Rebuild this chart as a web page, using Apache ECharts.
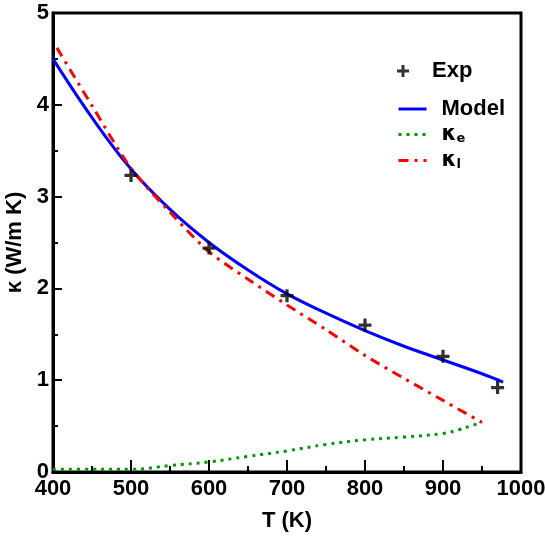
<!DOCTYPE html>
<html>
<head>
<meta charset="utf-8">
<script src="https://cdn.jsdelivr.net/npm/echarts@6/dist/echarts.min.js"></script>
<style>html,body{margin:0;padding:0;background:#fff}#c{width:545px;height:538px}</style>
</head>
<body>
<div id="c"></div>
<script>
// Experimental points
var expT = [500, 600, 700, 800, 900, 970];
var expK = [3.23, 2.44, 1.92, 1.60, 1.26, 0.92];
// Model (total)
var modelT = [400, 450, 500, 550, 600, 650, 700, 750, 800, 850, 900, 950, 977];
var modelK = [4.50, 3.86, 3.30, 2.86, 2.50, 2.20, 1.94, 1.73, 1.54, 1.37, 1.22, 1.07, 0.98];
// Electronic contribution
var keT = [400, 450, 500, 550, 600, 650, 700, 750, 800, 850, 900, 920, 935, 950];
var keK = [0.03, 0.03, 0.03, 0.07, 0.11, 0.17, 0.23, 0.30, 0.35, 0.38, 0.42, 0.46, 0.50, 0.54];
// Lattice contribution
var klT = [405, 450, 500, 550, 600, 650, 700, 750, 800, 850, 900, 950];
var klK = [4.62, 3.99, 3.31, 2.83, 2.40, 2.10, 1.82, 1.55, 1.27, 1.02, 0.78, 0.54];
// Axis ticks
var xTicks = [400, 500, 600, 700, 800, 900, 1000];
var yTicks = [0, 1, 2, 3, 4, 5];

function pairs(a, b) { return a.map(function (v, i) { return [v, b[i]]; }); }

var FONT = "'Liberation Sans Narrow', 'Liberation Sans', Arial, sans-serif";
var plus = 'path://M-1.5,-6 L1.5,-6 L1.5,-1.5 L6,-1.5 L6,1.5 L1.5,1.5 L1.5,6 L-1.5,6 L-1.5,1.5 L-6,1.5 L-6,-1.5 L-1.5,-1.5 Z';

var chart = echarts.init(document.getElementById('c'));
function leg(name, top, isLine) {
  var o = {
    data: [name], left: 392, top: top, orient: 'vertical',
    itemWidth: 28, itemHeight: 12, selectedMode: false,
    textStyle: {
      fontFamily: FONT, fontSize: 22, fontWeight: 'bold', color: '#000', padding: [0, 0, 0, 10],
      rich: {
        k: { fontFamily: 'DejaVu Sans', fontSize: 21, color: '#000' },
        s: { fontFamily: 'DejaVu Sans', fontSize: 13, color: '#000', verticalAlign: 'bottom', padding: [8, 0, 0, 0] }
      }
    },
    formatter: function (n) {
      if (n === 'ke') return '{k|κ}{s|e}';
      if (n === 'kl') return '{k|κ}{s|l}';
      return n;
    }
  };
  if (isLine) { o.itemStyle = { opacity: 0 }; o.lineStyle = { width: 3 }; }
  return o;
}

chart.setOption({
  animation: false,
  backgroundColor: '#fff',
  grid: { left: 53, right: 24, top: 13, bottom: 66, show: true, borderColor: '#000', borderWidth: 3, outerBoundsMode: 'none', containLabel: false },
  legend: [
    leg('Exp', 55, false),
    leg('Model', 93, true),
    leg('ke', 119, true),
    leg('kl', 145, true)
  ],
  xAxis: {
    type: 'value', min: xTicks[0], max: xTicks[xTicks.length - 1], interval: 100,
    name: 'T (K)', nameLocation: 'middle', nameGap: 38,
    nameTextStyle: { fontFamily: FONT, fontSize: 22, fontWeight: 'bold', color: '#000' },
    axisLine: { lineStyle: { color: '#000', width: 3 } },
    axisTick: { inside: true, length: 12, lineStyle: { color: '#000', width: 2 } },
    minorTick: { show: true, splitNumber: 2, length: 6, lineStyle: { color: '#000', width: 2 } },
    axisLabel: { fontFamily: FONT, fontSize: 22, fontWeight: 'bold', color: '#000', margin: 6, formatter: function (v) { return String(v); } },
    splitLine: { show: false }
  },
  yAxis: {
    type: 'value', min: yTicks[0], max: yTicks[yTicks.length - 1], interval: 1,
    name: 'κ (W/m K)', nameLocation: 'middle', nameGap: 12,
    nameTextStyle: { fontFamily: FONT, fontSize: 22, fontWeight: 'bold', color: '#000' },
    axisLine: { lineStyle: { color: '#000', width: 3 } },
    axisTick: { inside: true, length: 9, lineStyle: { color: '#000', width: 2 } },
    minorTick: { show: true, splitNumber: 2, length: 5, lineStyle: { color: '#000', width: 2 } },
    axisLabel: { fontFamily: FONT, fontSize: 22, fontWeight: 'bold', color: '#000', margin: 4, formatter: function (v) { return String(v); } },
    splitLine: { show: false }
  },
  series: [
    { name: 'Exp', type: 'scatter', data: pairs(expT, expK), symbol: plus, symbolSize: 13, itemStyle: { color: '#000' }, z: 5 },
    { name: 'Model', type: 'line', data: pairs(modelT, modelK), smooth: 0.4, symbol: 'none', lineStyle: { color: '#0000ff', width: 3 }, itemStyle: { color: '#0000ff' } },
    { name: 'ke', type: 'line', data: pairs(keT, keK), smooth: 0.4, symbol: 'none', lineStyle: { color: '#009a00', width: 3, type: [3, 5] }, itemStyle: { color: '#009a00' } },
    { name: 'kl', type: 'line', data: pairs(klT, klK), smooth: 0.3, symbol: 'none', lineStyle: { color: '#ff0000', width: 3, type: [10, 6, 3, 6] }, itemStyle: { color: '#ff0000' } }
  ]
});
</script>
</body>
</html>
